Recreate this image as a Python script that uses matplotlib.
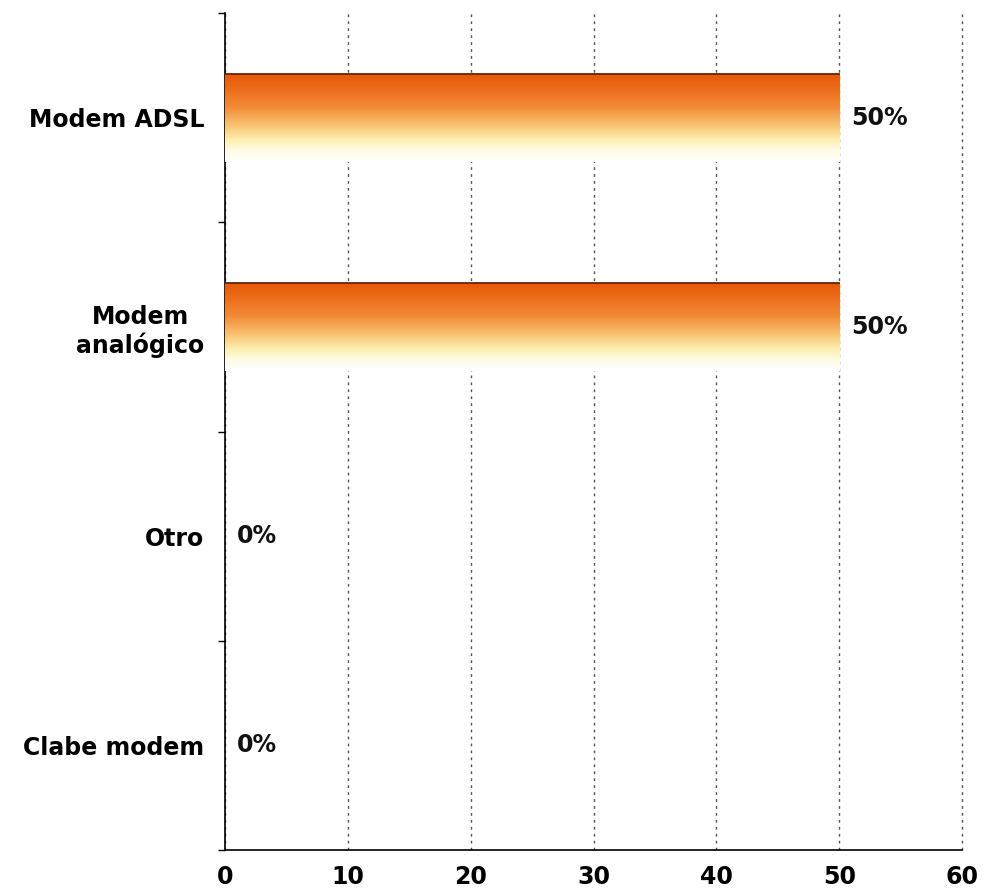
import numpy as np
import matplotlib.pyplot as plt
from matplotlib.colors import LinearSegmentedColormap

categories = ['Clabe modem', 'Otro', 'Modem\nanalógico', 'Modem ADSL']
values = [0, 0, 50, 50]
labels = ['0%', '0%', '50%', '50%']
xticks = [0, 10, 20, 30, 40, 50, 60]

plt.rcParams['font.family'] = 'DejaVu Sans'
plt.rcParams['font.weight'] = 'bold'
fs = 17

fig = plt.figure(figsize=(9.86, 8.91), dpi=100)
ax = fig.add_axes([0.2282, 0.046, 0.7475, 0.9394])

y = np.arange(len(categories))
h = 0.42
bars = ax.barh(y, values, height=h, color='none', edgecolor='none', zorder=3)

# orange at top fading to pale yellow / white at bottom
cmap = LinearSegmentedColormap.from_list(
    'fade', [(0.0, '#ffffff'), (0.12, '#fffce8'), (0.25, '#fdf0b0'),
             (0.42, '#f9c270'), (0.62, '#f28c38'), (0.82, '#ec6e1c'),
             (1.0, '#e55808')])
grad = np.linspace(0, 1, 256).reshape(-1, 1)
for b in bars:
    x0, y0 = b.get_x(), b.get_y()
    w, hh = b.get_width(), b.get_height()
    if w <= 0:
        continue
    im = ax.imshow(grad, cmap=cmap, aspect='auto', origin='lower',
                   extent=[x0, x0 + w, y0, y0 + hh], zorder=3)
    im.set_clip_path(b)
    ax.plot([x0, x0 + w], [y0 + hh, y0 + hh], color='#6a2400', lw=1.3, zorder=4)

for yi, v, lab in zip(y, values, labels):
    ax.text(v + 1.0, yi, lab, va='center', ha='left', fontsize=fs, color='#111111')

ax.set_xlim(0, 60)
ax.set_ylim(-0.5, len(categories) - 0.5)
ax.set_xticks(xticks)
ax.set_xticklabels([str(t) for t in xticks], fontsize=fs)
ax.tick_params(axis='x', length=0, pad=11)
ax.set_yticks(y)
ax.set_yticklabels(categories, fontsize=fs, multialignment='center')
ax.tick_params(axis='y', which='major', length=0, pad=15)
ax.set_yticks(np.arange(-0.5, len(categories), 1.0), minor=True)
ax.tick_params(axis='y', which='minor', length=5, width=1)

ax.grid(axis='x', color='#555555', linestyle=(0, (2, 3)), linewidth=1, zorder=1)
for gl in ax.get_xgridlines():
    gl.set_clip_on(False)
for s in ['top', 'right']:
    ax.spines[s].set_visible(False)
ax.spines['left'].set_linewidth(1.2)
ax.spines['bottom'].set_linewidth(1.2)

plt.savefig('out.png', dpi=100)
